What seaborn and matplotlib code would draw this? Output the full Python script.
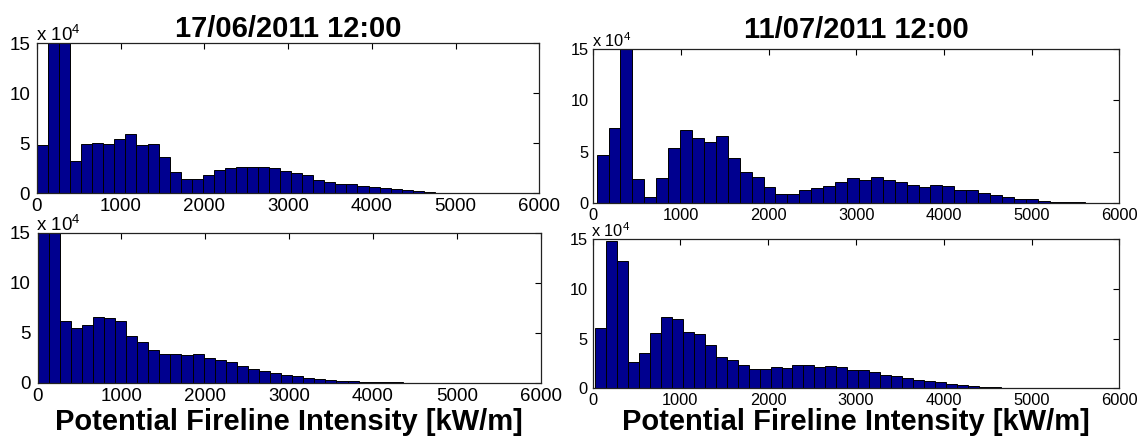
import numpy as np
import pandas as pd
import matplotlib
matplotlib.use("Agg")
import matplotlib.pyplot as plt
from matplotlib.transforms import blended_transform_factory
import seaborn as sns

# ---------------------------------------------------------------------------
# Data: histogram counts (in units of 10^4 cells) of potential fireline
# intensity, one list per panel, plus the bin layout of each histogram.
# ---------------------------------------------------------------------------
panel_titles = ["17/06/2011 12:00", "11/07/2011 12:00"]
x_label = "Potential Fireline Intensity [kW/m]"
x_ticks = [0, 1000, 2000, 3000, 4000, 5000, 6000]
y_ticks = [0, 5, 10, 15]
count_exponent = 4

jun17_upper = [4.8, 21.0, 18.0, 3.23, 4.9, 5.03, 4.97, 5.43, 5.9, 4.8, 4.9,
               3.63, 2.13, 1.43, 1.43, 1.83, 2.33, 2.5, 2.67, 2.67, 2.6, 2.5,
               2.27, 2.03, 1.8, 1.37, 1.1, 0.93, 0.9, 0.77, 0.63, 0.5, 0.4,
               0.33, 0.2, 0.1, 0.07, 0.03, 0.02, 0.02, 0.01, 0.01, 0.01,
               0.005, 0.005, 0.005]
jun17_lower = [20.0, 16.5, 6.13, 5.47, 5.77, 6.57, 6.43, 6.13, 4.63, 4.03,
               3.3, 2.83, 2.83, 2.77, 2.83, 2.5, 2.27, 2.03, 1.67, 1.37, 1.17,
               1.0, 0.77, 0.63, 0.47, 0.37, 0.3, 0.2, 0.13, 0.1, 0.05, 0.04,
               0.03, 0.02, 0.02, 0.01, 0.01, 0.01, 0.01, 0.005, 0.005, 0.005,
               0.005, 0.005, 0.005, 0.005]
jul11_upper = [4.66, 7.28, 18.5, 2.36, 0.61, 2.43, 5.34, 7.09, 6.31, 5.95,
               6.5, 4.4, 3.07, 2.59, 1.59, 0.87, 0.87, 1.26, 1.49, 1.65, 2.07,
               2.46, 2.27, 2.56, 2.23, 2.07, 1.78, 1.55, 1.75, 1.65, 1.33,
               1.26, 0.97, 0.78, 0.61, 0.45, 0.39, 0.23, 0.16, 0.1, 0.1, 0.04,
               0.03, 0.03]
jul11_lower = [6.04, 14.83, 12.85, 2.62, 3.59, 5.6, 7.15, 6.95, 5.7, 5.47,
               4.4, 3.12, 2.82, 2.35, 1.91, 1.98, 2.15, 2.08, 2.38, 2.38, 2.15,
               2.28, 2.11, 1.81, 1.81, 1.61, 1.38, 1.21, 1.07, 0.87, 0.70,
               0.64, 0.47, 0.37, 0.23, 0.17, 0.17, 0.05, 0.04, 0.03, 0.02,
               0.02, 0.01, 0.01, 0.01, 0.005, 0.005, 0.005]

# first bin edge and bin width (kW/m) of each histogram
jun17_upper_bins = (0, 132)
jun17_lower_bins = (0, 132)
jul11_upper_bins = (38, 136)
jul11_lower_bins = (27, 125)

# ---------------------------------------------------------------------------
sns.set_theme(style="white")
plt.rcParams["font.family"] = ["Liberation Sans", "DejaVu Sans"]
plt.rcParams["mathtext.fontset"] = "custom"
plt.rcParams["mathtext.rm"] = "Liberation Sans"
plt.rcParams["mathtext.it"] = "Liberation Sans"
plt.rcParams["text.color"] = "black"
plt.rcParams["axes.labelcolor"] = "black"
plt.rcParams["axes.titlecolor"] = "black"

BAR = "#00008F"
W, H = 1143, 437
fig = plt.figure(figsize=(W / 100, H / 100), dpi=100)
fig.patch.set_facecolor("white")


def px_axes(left, top, right, bottom):
    """Axes placed by its pixel box (origin at the top-left of the figure)."""
    return fig.add_axes([left / W, 1 - bottom / H, (right - left) / W,
                         (bottom - top) / H])


def draw_hist(ax, counts, bins, tick_size, ypad):
    start, width = bins
    counts = np.asarray(counts, dtype=float)
    edges = start + width * np.arange(len(counts) + 1)
    centers = 0.5 * (edges[:-1] + edges[1:])
    df = pd.DataFrame({"intensity": centers, "count": counts})
    sns.histplot(data=df, x="intensity", weights="count", bins=edges.tolist(),
                 stat="count", color=BAR, edgecolor="black", linewidth=0.7,
                 alpha=1.0, ax=ax)
    ax.set_xlim(0, 6000)
    ax.set_ylim(0, 15)
    ax.set_xticks(x_ticks)
    ax.set_yticks(y_ticks)
    ax.set_xlabel("")
    ax.set_ylabel("")
    ax.tick_params(direction="in", top=True, right=True, length=4, width=0.8,
                   labelsize=tick_size, colors="black")
    ax.tick_params(axis="x", pad=3.5)
    ax.tick_params(axis="y", pad=ypad)
    for s in ax.spines.values():
        s.set_color("#222222")
        s.set_linewidth(0.9)
    ax.annotate(r"x 10$^{%d}$" % count_exponent, xy=(0, 1),
                xycoords="axes fraction", xytext=(-1, 1.5),
                textcoords="offset points", ha="left", va="baseline",
                fontsize=tick_size)


ax_tl = px_axes(37, 43.3, 539.3, 193.3)
ax_tr = px_axes(593.3, 49, 1119.3, 203.3)
ax_bl = px_axes(37.6, 232.7, 540.7, 382.7)
ax_br = px_axes(592.6, 239.3, 1119.3, 388.3)

draw_hist(ax_tl, jun17_upper, jun17_upper_bins, 13.5, 5.0)
draw_hist(ax_bl, jun17_lower, jun17_lower_bins, 13.5, 5.0)
draw_hist(ax_tr, jul11_upper, jul11_upper_bins, 11.8, 3.5)
draw_hist(ax_br, jul11_lower, jul11_lower_bins, 11.8, 3.5)

ax_tl.set_title(panel_titles[0], fontsize=21, fontweight="bold", pad=4.2)
ax_tr.set_title(panel_titles[1], fontsize=21, fontweight="bold", pad=7.6)

for ax in (ax_bl, ax_br):
    ax.set_xlabel(x_label, fontsize=21, fontweight="bold")
    ax.xaxis.label.set_va("baseline")
    ax.xaxis.set_label_coords(
        0.5, 1 - 430 / H,
        transform=blended_transform_factory(ax.transAxes, fig.transFigure))

fig.savefig("out.png", dpi=100, facecolor="white")
